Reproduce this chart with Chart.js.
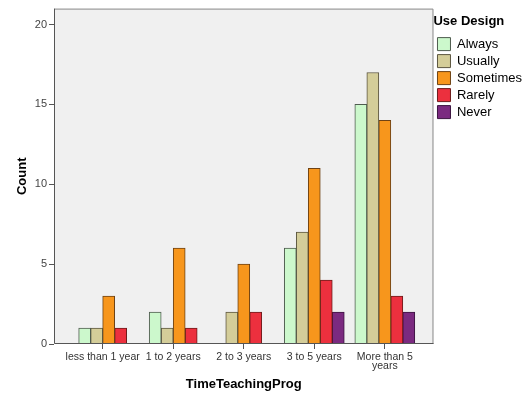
<!DOCTYPE html>
<html>
<head>
<meta charset="utf-8">
<title>Use Design by TimeTeachingProg</title>
<script src="https://cdn.jsdelivr.net/npm/chart.js"></script>
<style>
  body { margin: 0; background: #fff; }
  canvas { display: block; }
</style>
</head>
<body>
<canvas id="chart" width="529" height="396"></canvas>
<script>
// categories on the x axis
var categories = ['less than 1 year', '1 to 2 years', '2 to 3 years', '3 to 5 years', 'More than 5 years'];
var tickLabels = ['less than 1 year', '1 to 2 years', '2 to 3 years', '3 to 5 years', ['More than 5', 'years']];
var yTicks = [0, 5, 10, 15, 20];

// counts per answer (null = no bar)
var always    = [1, 2, null, 6, 15];
var usually   = [1, 1, 2, 7, 17];
var sometimes = [3, 6, 5, 11, 14];
var rarely    = [1, 1, 2, 4, 3];
var never     = [null, null, null, 2, 2];

function pts(arr) {
  return arr.map(function (v, i) { return { x: i, y: v }; });
}

var series = [
  { label: 'Always',    data: always,    bg: '#ccf8cc', bd: '#4f5c4f' },
  { label: 'Usually',   data: usually,   bg: '#d4cd99', bd: '#5c5640' },
  { label: 'Sometimes', data: sometimes, bg: '#f7961c', bd: '#6e4214' },
  { label: 'Rarely',    data: rarely,    bg: '#ec303e', bd: '#6e1c1c' },
  { label: 'Never',     data: never,     bg: '#7b2a80', bd: '#3c1440' }
];

// plot background + frame
var frame = {
  id: 'frame',
  beforeDatasetsDraw: function (chart) {
    var a = chart.chartArea, c = chart.ctx;
    c.save();
    c.fillStyle = '#f0f0f0';
    c.fillRect(a.left, a.top, a.right - a.left, a.bottom - a.top);
    c.restore();
  },
  afterDatasetsDraw: function (chart) {
    var a = chart.chartArea, c = chart.ctx;
    c.save();
    c.lineWidth = 1;
    c.strokeStyle = '#8a8a8a';
    c.beginPath();
    c.moveTo(a.left + 0.5, a.top + 0.5);
    c.lineTo(a.right - 0.5, a.top + 0.5);
    c.lineTo(a.right - 0.5, a.bottom);
    c.stroke();
    c.strokeStyle = '#555';
    c.beginPath();
    c.moveTo(a.left + 0.5, a.top);
    c.lineTo(a.left + 0.5, a.bottom - 0.5);
    c.lineTo(a.right, a.bottom - 0.5);
    c.stroke();
    c.restore();
  }
};

Chart.defaults.font.family = 'Arial, "Liberation Sans", sans-serif';
Chart.defaults.color = '#333';

new Chart('chart', {
  type: 'bar',
  data: {
    datasets: series.map(function (s) {
      return {
        label: s.label,
        data: pts(s.data),
        backgroundColor: s.bg,
        borderColor: s.bd,
        borderWidth: 1,
        barThickness: 12
      };
    })
  },
  options: {
    responsive: false,
    animation: false,
    skipNull: true,
    layout: { padding: { top: 8, right: -3, bottom: 0, left: 0 } },
    scales: {
      x: {
        type: 'linear',
        offset: false,
        min: -0.69,
        max: 4.69,
        afterBuildTicks: function (s) {
          s.ticks = categories.map(function (c, i) { return { value: i }; });
        },
        afterFit: function (s) { s.height = 52; },
        ticks: {
          autoSkip: false,
          maxRotation: 0,
          padding: 3,
          color: '#333',
          font: { size: 10.5, lineHeight: 0.9 },
          callback: function (v) { return tickLabels[v]; }
        },
        grid: { offset: false, drawOnChartArea: false, drawTicks: true, tickLength: 5, color: '#555' },
        border: { display: false },
        title: {
          display: true,
          text: 'TimeTeachingProg',
          color: '#000',
          font: { size: 13, weight: 'bold' },
          padding: { top: 0, bottom: 4 }
        }
      },
      y: {
        min: 0,
        max: 21,
        afterBuildTicks: function (s) {
          s.ticks = yTicks.map(function (v) { return { value: v }; });
        },
        afterFit: function (s) { s.width = 54; },
        ticks: { padding: 2, color: '#444', font: { size: 11 } },
        grid: { drawOnChartArea: false, drawTicks: true, tickLength: 5, color: '#555' },
        border: { display: false },
        title: {
          display: true,
          text: 'Count',
          color: '#000',
          font: { size: 13, weight: 'bold' },
          padding: { top: 15, bottom: 0 }
        }
      }
    },
    plugins: {
      tooltip: { enabled: false },
      legend: {
        position: 'right',
        align: 'start',
        title: {
          display: true,
          text: 'Use Design',
          position: 'start',
          color: '#000',
          font: { size: 13, weight: 'bold' },
          padding: { top: 7, bottom: 3 }
        },
        labels: {
          boxWidth: 13,
          boxHeight: 13,
          padding: 4,
          color: '#000',
          font: { size: 13 }
        }
      }
    }
  },
  plugins: [frame]
});
</script>
</body>
</html>
